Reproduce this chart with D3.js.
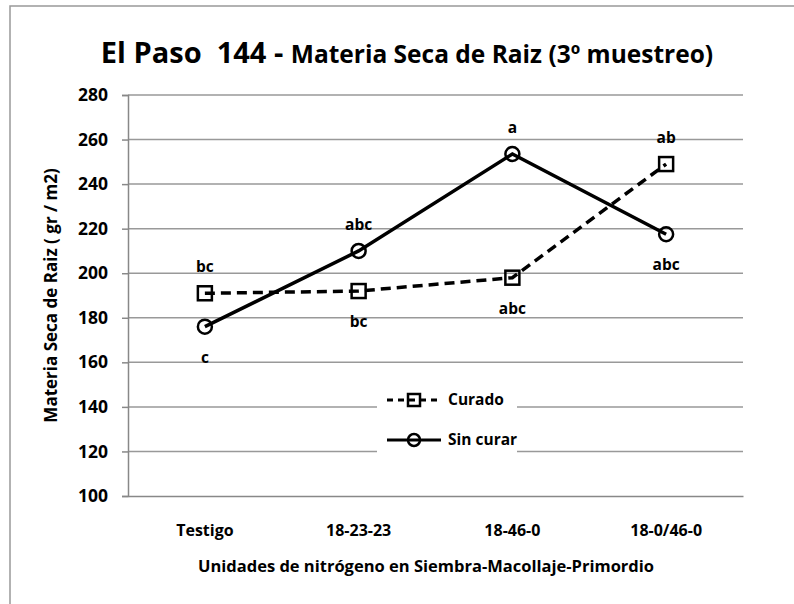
<!DOCTYPE html>
<html>
<head>
<meta charset="utf-8">
<script src="https://cdn.jsdelivr.net/npm/d3@7"></script>
<style>
  body { margin: 0; background: #fff; }
  text { font-family: "Open Sans", sans-serif; font-weight: bold; fill: #000; }
</style>
</head>
<body>
<div id="chart"></div>
<script>
// Data
var categories = ['Testigo', '18-23-23', '18-46-0', '18-0/46-0'];
var curado = [191, 192, 198, 249];
var sinCurar = [176, 210, 253.5, 217.5];
var curadoLabels = ['bc', 'bc', 'abc', 'ab'];
var sinCurarLabels = ['c', 'abc', 'a', 'abc'];
var curadoLabelPos = ['above', 'below', 'below', 'above'];
var sinCurarLabelPos = ['below', 'above', 'above', 'below'];
var yTicks = [100, 120, 140, 160, 180, 200, 220, 240, 260, 280];

var width = 794, height = 604;
var margin = {top: 95, right: 51, bottom: 108, left: 128};
var fontFam = '"Open Sans", sans-serif';

var svg = d3.select('#chart').append('svg')
  .attr('width', width)
  .attr('height', height);

// Outer frame (extends past the picture on the right and bottom)
svg.append('rect')
  .attr('x', 10).attr('y', 6)
  .attr('width', 800).attr('height', 620)
  .style('fill', 'none')
  .style('stroke', '#999')
  .style('stroke-width', 1.5);

var x = d3.scaleBand()
  .domain(categories)
  .range([margin.left, width - margin.right]);

var y = d3.scaleLinear()
  .domain([100, 280])
  .range([height - margin.bottom, margin.top]);

// Gridlines
svg.append('g').selectAll('line')
  .data(yTicks.slice(1))
  .enter().append('line')
  .attr('x1', margin.left).attr('x2', width - margin.right)
  .attr('y1', function(d) { return y(d); })
  .attr('y2', function(d) { return y(d); })
  .style('stroke', '#999')
  .style('stroke-width', 1.5);

// Y axis
var yAxis = svg.append('g')
  .attr('transform', 'translate(' + margin.left + ',0)')
  .call(d3.axisLeft(y).tickValues(yTicks).tickSize(6).tickPadding(14));
yAxis.select('.domain').style('stroke', '#888').style('stroke-width', 1.5);
yAxis.selectAll('.tick line').style('stroke', '#888').style('stroke-width', 1.5);
yAxis.selectAll('text').style('font-size', '17.5px').style('font-family', fontFam).style('font-weight', 'bold');

// X axis
var xAxis = svg.append('g')
  .attr('transform', 'translate(0,' + (height - margin.bottom) + ')')
  .call(d3.axisBottom(x).tickSize(0).tickPadding(29));
xAxis.select('.domain').style('stroke', '#888').style('stroke-width', 1.5);
xAxis.selectAll('text').style('font-size', '16px').style('font-family', fontFam).style('font-weight', 'bold');

// Legend background (hides gridlines under it)
var legend = svg.append('g');
legend.append('rect')
  .attr('x', 377).attr('y', 382)
  .attr('width', 140).attr('height', 78)
  .style('fill', '#fff');

// Lines
var line = d3.line()
  .x(function(d, i) { return x(categories[i]) + x.bandwidth() / 2; })
  .y(function(d) { return y(d); });

svg.append('path')
  .datum(curado)
  .attr('d', line)
  .style('fill', 'none')
  .style('stroke', '#000')
  .style('stroke-width', 3.5)
  .style('stroke-dasharray', '10,6');

svg.append('path')
  .datum(sinCurar)
  .attr('d', line)
  .style('fill', 'none')
  .style('stroke', '#000')
  .style('stroke-width', 3.5);

// Markers
svg.append('g').selectAll('rect')
  .data(curado)
  .enter().append('rect')
  .attr('x', function(d, i) { return x(categories[i]) + x.bandwidth() / 2 - 7; })
  .attr('y', function(d) { return y(d) - 7; })
  .attr('width', 14).attr('height', 14)
  .style('fill', 'none')
  .style('stroke', '#000')
  .style('stroke-width', 2.5);

svg.append('g').selectAll('circle')
  .data(sinCurar)
  .enter().append('circle')
  .attr('cx', function(d, i) { return x(categories[i]) + x.bandwidth() / 2; })
  .attr('cy', function(d) { return y(d); })
  .attr('r', 7)
  .style('fill', 'none')
  .style('stroke', '#000')
  .style('stroke-width', 2.5);

// Significance letters
function addLetters(values, labels, pos) {
  svg.append('g').selectAll('text')
    .data(values)
    .enter().append('text')
    .attr('x', function(d, i) { return x(categories[i]) + x.bandwidth() / 2; })
    .attr('y', function(d, i) { return pos[i] === 'above' ? y(d) - 21 : y(d) + 36; })
    .attr('text-anchor', 'middle')
    .style('font-size', '15.5px')
    .text(function(d, i) { return labels[i]; });
}
addLetters(curado, curadoLabels, curadoLabelPos);
addLetters(sinCurar, sinCurarLabels, sinCurarLabelPos);

// Legend entries
var legendItems = [
  {name: 'Curado', dash: '6,5', marker: 'square', y: 400},
  {name: 'Sin curar', dash: null, marker: 'circle', y: 440}
];
legendItems.forEach(function(item) {
  legend.append('line')
    .attr('x1', 387).attr('x2', 441)
    .attr('y1', item.y).attr('y2', item.y)
    .style('stroke', '#000')
    .style('stroke-width', 3)
    .style('stroke-dasharray', item.dash);
  if (item.marker === 'square') {
    legend.append('rect')
      .attr('x', 408).attr('y', item.y - 6)
      .attr('width', 12).attr('height', 12)
      .style('fill', 'none').style('stroke', '#000').style('stroke-width', 2.5);
  } else {
    legend.append('circle')
      .attr('cx', 414).attr('cy', item.y).attr('r', 6)
      .style('fill', 'none').style('stroke', '#000').style('stroke-width', 2.5);
  }
  legend.append('text')
    .attr('x', 448).attr('y', item.y + 5)
    .style('font-size', '15.5px')
    .text(item.name);
});

// Title
var title = svg.append('text')
  .attr('x', 407).attr('y', 63)
  .attr('text-anchor', 'middle');
title.append('tspan').style('font-size', '29px').text('El Paso\u00a0\u00a0144 - ');
title.append('tspan').style('font-size', '24.5px').text('Materia Seca de Raiz (3º muestreo)');

// Axis titles
svg.append('text')
  .attr('x', 426)
  .attr('y', 572)
  .attr('text-anchor', 'middle')
  .style('font-size', '16.5px')
  .text('Unidades de nitrógeno en Siembra-Macollaje-Primordio');

svg.append('text')
  .attr('transform', 'translate(57,' + ((margin.top + height - margin.bottom) / 2) + ') rotate(-90)')
  .attr('text-anchor', 'middle')
  .style('font-size', '17px')
  .text('Materia Seca de Raiz  ( gr / m2)');
</script>
</body>
</html>
